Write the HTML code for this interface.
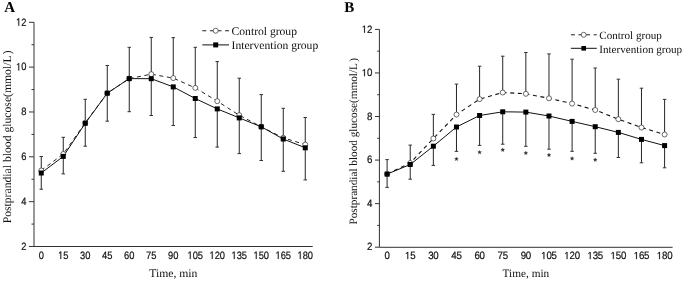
<!DOCTYPE html>
<html><head><meta charset="utf-8"><style>
html,body{margin:0;padding:0;background:#fff;}
body{width:685px;height:281px;overflow:hidden;}
svg{display:block;will-change:transform;}
text{text-rendering:geometricPrecision;}
.eb{stroke:#262626;stroke-width:1;}
.cap{stroke:#333;stroke-width:1;}
.dl{fill:none;stroke:#222;stroke-width:1;stroke-dasharray:4 3.6;}
.dlb{stroke:#111;stroke-width:1.1;}
.sl{fill:none;stroke:#111;stroke-width:1;}
.cm{fill:#fff;stroke:#3a3a3a;stroke-width:0.75;}
.sm{fill:#000;}
.yax{stroke:#333;stroke-width:1;}
.xax{stroke:#333;stroke-width:1;}
.tk{stroke:#333;stroke-width:1;}
.tl{font-family:"Liberation Sans",sans-serif;font-size:10.6px;fill:#111;stroke:#111;stroke-width:0.2px;text-rendering:geometricPrecision;}
.one{fill:#111;stroke:#111;stroke-width:40px;}
.lg,.ax{font-family:"Liberation Serif",serif;fill:#111;}
.pl{font-family:"Liberation Serif",serif;font-weight:bold;font-size:15px;fill:#000;}
.ast{fill:#333;stroke:#333;stroke-width:0.2;stroke-linejoin:round;}
</style></head><body>
<svg width="685" height="281" viewBox="0 0 685 281">
<line x1="34" y1="22.3" x2="34" y2="246.5" class="yax"/>
<line x1="34" y1="246.5" x2="312.7" y2="246.5" class="xax"/>
<line x1="29" y1="246.5" x2="34" y2="246.5" class="tk"/>
<text transform="translate(21.21,249.85) scale(0.8800,1)" class="tl" font-size="10.6">2</text>
<line x1="31.5" y1="224.08" x2="34" y2="224.08" class="tk"/>
<line x1="29" y1="201.66" x2="34" y2="201.66" class="tk"/>
<text transform="translate(21.21,205.01) scale(0.8800,1)" class="tl" font-size="10.6">4</text>
<line x1="31.5" y1="179.24" x2="34" y2="179.24" class="tk"/>
<line x1="29" y1="156.82" x2="34" y2="156.82" class="tk"/>
<text transform="translate(21.21,160.17) scale(0.8800,1)" class="tl" font-size="10.6">6</text>
<line x1="31.5" y1="134.4" x2="34" y2="134.4" class="tk"/>
<line x1="29" y1="111.98" x2="34" y2="111.98" class="tk"/>
<text transform="translate(21.21,115.33) scale(0.8800,1)" class="tl" font-size="10.6">8</text>
<line x1="31.5" y1="89.56" x2="34" y2="89.56" class="tk"/>
<line x1="29" y1="67.14" x2="34" y2="67.14" class="tk"/>
<path d="M515 0V1237L197 1010V1180L530 1409H696V0Z" class="one" transform="translate(16.02,70.49) scale(0.004555,-0.005176)"/><text transform="translate(21.21,70.49) scale(0.8800,1)" class="tl" font-size="10.6">0</text>
<line x1="31.5" y1="44.72" x2="34" y2="44.72" class="tk"/>
<line x1="29" y1="22.3" x2="34" y2="22.3" class="tk"/>
<path d="M515 0V1237L197 1010V1180L530 1409H696V0Z" class="one" transform="translate(16.02,25.65) scale(0.004555,-0.005176)"/><text transform="translate(21.21,25.65) scale(0.8800,1)" class="tl" font-size="10.6">2</text>
<text transform="translate(38.66,258.9) scale(0.8800,1)" class="tl" font-size="10.6">0</text>
<path d="M515 0V1237L197 1010V1180L530 1409H696V0Z" class="one" transform="translate(58.06,258.9) scale(0.004555,-0.005176)"/><text transform="translate(63.25,258.9) scale(0.8800,1)" class="tl" font-size="10.6">5</text>
<text transform="translate(80.06,258.9) scale(0.8800,1)" class="tl" font-size="10.6">3</text><text transform="translate(85.25,258.9) scale(0.8800,1)" class="tl" font-size="10.6">0</text>
<text transform="translate(102.06,258.9) scale(0.8800,1)" class="tl" font-size="10.6">4</text><text transform="translate(107.25,258.9) scale(0.8800,1)" class="tl" font-size="10.6">5</text>
<text transform="translate(124.06,258.9) scale(0.8800,1)" class="tl" font-size="10.6">6</text><text transform="translate(129.25,258.9) scale(0.8800,1)" class="tl" font-size="10.6">0</text>
<text transform="translate(146.06,258.9) scale(0.8800,1)" class="tl" font-size="10.6">7</text><text transform="translate(151.25,258.9) scale(0.8800,1)" class="tl" font-size="10.6">5</text>
<text transform="translate(168.06,258.9) scale(0.8800,1)" class="tl" font-size="10.6">9</text><text transform="translate(173.25,258.9) scale(0.8800,1)" class="tl" font-size="10.6">0</text>
<path d="M515 0V1237L197 1010V1180L530 1409H696V0Z" class="one" transform="translate(187.47,258.9) scale(0.004555,-0.005176)"/><text transform="translate(192.66,258.9) scale(0.8800,1)" class="tl" font-size="10.6">0</text><text transform="translate(197.84,258.9) scale(0.8800,1)" class="tl" font-size="10.6">5</text>
<path d="M515 0V1237L197 1010V1180L530 1409H696V0Z" class="one" transform="translate(209.47,258.9) scale(0.004555,-0.005176)"/><text transform="translate(214.66,258.9) scale(0.8800,1)" class="tl" font-size="10.6">2</text><text transform="translate(219.84,258.9) scale(0.8800,1)" class="tl" font-size="10.6">0</text>
<path d="M515 0V1237L197 1010V1180L530 1409H696V0Z" class="one" transform="translate(231.47,258.9) scale(0.004555,-0.005176)"/><text transform="translate(236.66,258.9) scale(0.8800,1)" class="tl" font-size="10.6">3</text><text transform="translate(241.84,258.9) scale(0.8800,1)" class="tl" font-size="10.6">5</text>
<path d="M515 0V1237L197 1010V1180L530 1409H696V0Z" class="one" transform="translate(253.47,258.9) scale(0.004555,-0.005176)"/><text transform="translate(258.66,258.9) scale(0.8800,1)" class="tl" font-size="10.6">5</text><text transform="translate(263.84,258.9) scale(0.8800,1)" class="tl" font-size="10.6">0</text>
<path d="M515 0V1237L197 1010V1180L530 1409H696V0Z" class="one" transform="translate(275.47,258.9) scale(0.004555,-0.005176)"/><text transform="translate(280.66,258.9) scale(0.8800,1)" class="tl" font-size="10.6">6</text><text transform="translate(285.84,258.9) scale(0.8800,1)" class="tl" font-size="10.6">5</text>
<path d="M515 0V1237L197 1010V1180L530 1409H696V0Z" class="one" transform="translate(297.47,258.9) scale(0.004555,-0.005176)"/><text transform="translate(302.66,258.9) scale(0.8800,1)" class="tl" font-size="10.6">8</text><text transform="translate(307.84,258.9) scale(0.8800,1)" class="tl" font-size="10.6">0</text>
<line x1="379.4" y1="29.4" x2="379.4" y2="247.3" class="yax"/>
<line x1="379.4" y1="247.3" x2="672.6" y2="247.3" class="xax"/>
<line x1="375" y1="247.2" x2="379.4" y2="247.2" class="tk"/>
<text transform="translate(367.01,250.45) scale(0.9150,1)" class="tl" font-size="10.2">2</text>
<line x1="377.2" y1="225.42" x2="379.4" y2="225.42" class="tk"/>
<line x1="375" y1="203.64" x2="379.4" y2="203.64" class="tk"/>
<text transform="translate(367.01,206.89) scale(0.9150,1)" class="tl" font-size="10.2">4</text>
<line x1="377.2" y1="181.86" x2="379.4" y2="181.86" class="tk"/>
<line x1="375" y1="160.08" x2="379.4" y2="160.08" class="tk"/>
<text transform="translate(367.01,163.33) scale(0.9150,1)" class="tl" font-size="10.2">6</text>
<line x1="377.2" y1="138.3" x2="379.4" y2="138.3" class="tk"/>
<line x1="375" y1="116.52" x2="379.4" y2="116.52" class="tk"/>
<text transform="translate(367.01,119.77) scale(0.9150,1)" class="tl" font-size="10.2">8</text>
<line x1="377.2" y1="94.74" x2="379.4" y2="94.74" class="tk"/>
<line x1="375" y1="72.96" x2="379.4" y2="72.96" class="tk"/>
<path d="M515 0V1237L197 1010V1180L530 1409H696V0Z" class="one" transform="translate(361.82,76.21) scale(0.004557,-0.004980)"/><text transform="translate(367.01,76.21) scale(0.9150,1)" class="tl" font-size="10.2">0</text>
<line x1="377.2" y1="51.18" x2="379.4" y2="51.18" class="tk"/>
<line x1="375" y1="29.4" x2="379.4" y2="29.4" class="tk"/>
<path d="M515 0V1237L197 1010V1180L530 1409H696V0Z" class="one" transform="translate(361.82,32.65) scale(0.004557,-0.004980)"/><text transform="translate(367.01,32.65) scale(0.9150,1)" class="tl" font-size="10.2">2</text>
<text transform="translate(384.5,259.1) scale(0.9150,1)" class="tl" font-size="10.2">0</text>
<path d="M515 0V1237L197 1010V1180L530 1409H696V0Z" class="one" transform="translate(405.03,259.1) scale(0.004557,-0.004980)"/><text transform="translate(410.23,259.1) scale(0.9150,1)" class="tl" font-size="10.2">5</text>
<text transform="translate(428.16,259.1) scale(0.9150,1)" class="tl" font-size="10.2">3</text><text transform="translate(433.35,259.1) scale(0.9150,1)" class="tl" font-size="10.2">0</text>
<text transform="translate(451.28,259.1) scale(0.9150,1)" class="tl" font-size="10.2">4</text><text transform="translate(456.48,259.1) scale(0.9150,1)" class="tl" font-size="10.2">5</text>
<text transform="translate(474.41,259.1) scale(0.9150,1)" class="tl" font-size="10.2">6</text><text transform="translate(479.6,259.1) scale(0.9150,1)" class="tl" font-size="10.2">0</text>
<text transform="translate(497.53,259.1) scale(0.9150,1)" class="tl" font-size="10.2">7</text><text transform="translate(502.73,259.1) scale(0.9150,1)" class="tl" font-size="10.2">5</text>
<text transform="translate(520.66,259.1) scale(0.9150,1)" class="tl" font-size="10.2">9</text><text transform="translate(525.85,259.1) scale(0.9150,1)" class="tl" font-size="10.2">0</text>
<path d="M515 0V1237L197 1010V1180L530 1409H696V0Z" class="one" transform="translate(541.19,259.1) scale(0.004557,-0.004980)"/><text transform="translate(546.38,259.1) scale(0.9150,1)" class="tl" font-size="10.2">0</text><text transform="translate(551.57,259.1) scale(0.9150,1)" class="tl" font-size="10.2">5</text>
<path d="M515 0V1237L197 1010V1180L530 1409H696V0Z" class="one" transform="translate(564.31,259.1) scale(0.004557,-0.004980)"/><text transform="translate(569.5,259.1) scale(0.9150,1)" class="tl" font-size="10.2">2</text><text transform="translate(574.7,259.1) scale(0.9150,1)" class="tl" font-size="10.2">0</text>
<path d="M515 0V1237L197 1010V1180L530 1409H696V0Z" class="one" transform="translate(587.44,259.1) scale(0.004557,-0.004980)"/><text transform="translate(592.63,259.1) scale(0.9150,1)" class="tl" font-size="10.2">3</text><text transform="translate(597.82,259.1) scale(0.9150,1)" class="tl" font-size="10.2">5</text>
<path d="M515 0V1237L197 1010V1180L530 1409H696V0Z" class="one" transform="translate(610.56,259.1) scale(0.004557,-0.004980)"/><text transform="translate(615.75,259.1) scale(0.9150,1)" class="tl" font-size="10.2">5</text><text transform="translate(620.95,259.1) scale(0.9150,1)" class="tl" font-size="10.2">0</text>
<path d="M515 0V1237L197 1010V1180L530 1409H696V0Z" class="one" transform="translate(633.69,259.1) scale(0.004557,-0.004980)"/><text transform="translate(638.88,259.1) scale(0.9150,1)" class="tl" font-size="10.2">6</text><text transform="translate(644.07,259.1) scale(0.9150,1)" class="tl" font-size="10.2">5</text>
<path d="M515 0V1237L197 1010V1180L530 1409H696V0Z" class="one" transform="translate(656.81,259.1) scale(0.004557,-0.004980)"/><text transform="translate(662,259.1) scale(0.9150,1)" class="tl" font-size="10.2">8</text><text transform="translate(667.2,259.1) scale(0.9150,1)" class="tl" font-size="10.2">0</text>
<line x1="41.25" y1="156.5" x2="41.25" y2="170.5" class="eb"/>
<line x1="41.25" y1="173" x2="41.25" y2="189.25" class="eb"/>
<line x1="39.5" y1="156.5" x2="43" y2="156.5" class="cap"/>
<line x1="39.5" y1="189.25" x2="43" y2="189.25" class="cap"/>
<line x1="63.25" y1="137.3" x2="63.25" y2="154" class="eb"/>
<line x1="63.25" y1="156.4" x2="63.25" y2="173.9" class="eb"/>
<line x1="61.5" y1="137.3" x2="65" y2="137.3" class="cap"/>
<line x1="61.5" y1="173.9" x2="65" y2="173.9" class="cap"/>
<line x1="85.25" y1="99.3" x2="85.25" y2="122.8" class="eb"/>
<line x1="85.25" y1="123.3" x2="85.25" y2="146.2" class="eb"/>
<line x1="83.5" y1="99.3" x2="87" y2="99.3" class="cap"/>
<line x1="83.5" y1="146.2" x2="87" y2="146.2" class="cap"/>
<line x1="107.25" y1="65.5" x2="107.25" y2="93.2" class="eb"/>
<line x1="107.25" y1="93.2" x2="107.25" y2="121.2" class="eb"/>
<line x1="105.5" y1="65.5" x2="109" y2="65.5" class="cap"/>
<line x1="105.5" y1="121.2" x2="109" y2="121.2" class="cap"/>
<line x1="129.25" y1="47.3" x2="129.25" y2="78.6" class="eb"/>
<line x1="129.25" y1="78.6" x2="129.25" y2="111.7" class="eb"/>
<line x1="127.5" y1="47.3" x2="131" y2="47.3" class="cap"/>
<line x1="127.5" y1="111.7" x2="131" y2="111.7" class="cap"/>
<line x1="151.25" y1="37.4" x2="151.25" y2="74.2" class="eb"/>
<line x1="151.25" y1="78.7" x2="151.25" y2="115.5" class="eb"/>
<line x1="149.5" y1="37.4" x2="153" y2="37.4" class="cap"/>
<line x1="149.5" y1="115.5" x2="153" y2="115.5" class="cap"/>
<line x1="173.25" y1="37.7" x2="173.25" y2="78.1" class="eb"/>
<line x1="173.25" y1="86.9" x2="173.25" y2="125.5" class="eb"/>
<line x1="171.5" y1="37.7" x2="175" y2="37.7" class="cap"/>
<line x1="171.5" y1="125.5" x2="175" y2="125.5" class="cap"/>
<line x1="195.25" y1="47.3" x2="195.25" y2="87.9" class="eb"/>
<line x1="195.25" y1="98.5" x2="195.25" y2="137.5" class="eb"/>
<line x1="193.5" y1="47.3" x2="197" y2="47.3" class="cap"/>
<line x1="193.5" y1="137.5" x2="197" y2="137.5" class="cap"/>
<line x1="217.25" y1="61.6" x2="217.25" y2="101.2" class="eb"/>
<line x1="217.25" y1="108.9" x2="217.25" y2="147.1" class="eb"/>
<line x1="215.5" y1="61.6" x2="219" y2="61.6" class="cap"/>
<line x1="215.5" y1="147.1" x2="219" y2="147.1" class="cap"/>
<line x1="239.25" y1="78.2" x2="239.25" y2="115.2" class="eb"/>
<line x1="239.25" y1="117.9" x2="239.25" y2="153.6" class="eb"/>
<line x1="237.5" y1="78.2" x2="241" y2="78.2" class="cap"/>
<line x1="237.5" y1="153.6" x2="241" y2="153.6" class="cap"/>
<line x1="261.25" y1="94.6" x2="261.25" y2="126.8" class="eb"/>
<line x1="261.25" y1="126.8" x2="261.25" y2="160.5" class="eb"/>
<line x1="259.5" y1="94.6" x2="263" y2="94.6" class="cap"/>
<line x1="259.5" y1="160.5" x2="263" y2="160.5" class="cap"/>
<line x1="283.25" y1="108.3" x2="283.25" y2="137.8" class="eb"/>
<line x1="283.25" y1="139" x2="283.25" y2="171.3" class="eb"/>
<line x1="281.5" y1="108.3" x2="285" y2="108.3" class="cap"/>
<line x1="281.5" y1="171.3" x2="285" y2="171.3" class="cap"/>
<line x1="305.25" y1="117.5" x2="305.25" y2="144.6" class="eb"/>
<line x1="305.25" y1="147.8" x2="305.25" y2="179.9" class="eb"/>
<line x1="303.5" y1="117.5" x2="307" y2="117.5" class="cap"/>
<line x1="303.5" y1="179.9" x2="307" y2="179.9" class="cap"/>
<path d="M41.25,170.5 L63.25,154 L85.25,122.8 L107.25,93.2 L129.25,78.6 L151.25,74.2 L173.25,78.1 L195.25,87.9 L217.25,101.2 L239.25,115.2 L261.25,126.8 L283.25,137.8 L305.25,144.6" class="dl"/>
<path d="M41.25,173 L63.25,156.4 L85.25,123.3 L107.25,93.2 L129.25,78.6 L151.25,78.7 L173.25,86.9 L195.25,98.5 L217.25,108.9 L239.25,117.9 L261.25,126.8 L283.25,139 L305.25,147.8" class="sl"/>
<circle cx="41.25" cy="170.5" r="2.5" class="cm"/>
<circle cx="63.25" cy="154" r="2.5" class="cm"/>
<circle cx="85.25" cy="122.8" r="2.5" class="cm"/>
<circle cx="107.25" cy="93.2" r="2.5" class="cm"/>
<circle cx="129.25" cy="78.6" r="2.5" class="cm"/>
<circle cx="151.25" cy="74.2" r="2.5" class="cm"/>
<circle cx="173.25" cy="78.1" r="2.5" class="cm"/>
<circle cx="195.25" cy="87.9" r="2.5" class="cm"/>
<circle cx="217.25" cy="101.2" r="2.5" class="cm"/>
<circle cx="239.25" cy="115.2" r="2.5" class="cm"/>
<circle cx="261.25" cy="126.8" r="2.5" class="cm"/>
<circle cx="283.25" cy="137.8" r="2.5" class="cm"/>
<circle cx="305.25" cy="144.6" r="2.5" class="cm"/>
<rect x="38.75" y="170.5" width="5" height="5" class="sm"/>
<rect x="60.75" y="153.9" width="5" height="5" class="sm"/>
<rect x="82.75" y="120.8" width="5" height="5" class="sm"/>
<rect x="104.75" y="90.7" width="5" height="5" class="sm"/>
<rect x="126.75" y="76.1" width="5" height="5" class="sm"/>
<rect x="148.75" y="76.2" width="5" height="5" class="sm"/>
<rect x="170.75" y="84.4" width="5" height="5" class="sm"/>
<rect x="192.75" y="96" width="5" height="5" class="sm"/>
<rect x="214.75" y="106.4" width="5" height="5" class="sm"/>
<rect x="236.75" y="115.4" width="5" height="5" class="sm"/>
<rect x="258.75" y="124.3" width="5" height="5" class="sm"/>
<rect x="280.75" y="136.5" width="5" height="5" class="sm"/>
<rect x="302.75" y="145.3" width="5" height="5" class="sm"/>
<line x1="387.1" y1="159.6" x2="387.1" y2="174" class="eb"/>
<line x1="387.1" y1="174.1" x2="387.1" y2="187.4" class="eb"/>
<line x1="385.35" y1="159.6" x2="388.85" y2="159.6" class="cap"/>
<line x1="385.35" y1="187.4" x2="388.85" y2="187.4" class="cap"/>
<line x1="410.23" y1="145.1" x2="410.23" y2="163" class="eb"/>
<line x1="410.23" y1="164.5" x2="410.23" y2="179.2" class="eb"/>
<line x1="408.48" y1="145.1" x2="411.98" y2="145.1" class="cap"/>
<line x1="408.48" y1="179.2" x2="411.98" y2="179.2" class="cap"/>
<line x1="433.35" y1="114.4" x2="433.35" y2="138.5" class="eb"/>
<line x1="433.35" y1="146.2" x2="433.35" y2="165.4" class="eb"/>
<line x1="431.6" y1="114.4" x2="435.1" y2="114.4" class="cap"/>
<line x1="431.6" y1="165.4" x2="435.1" y2="165.4" class="cap"/>
<line x1="456.48" y1="84.1" x2="456.48" y2="114.6" class="eb"/>
<line x1="456.48" y1="127" x2="456.48" y2="151.4" class="eb"/>
<line x1="454.73" y1="84.1" x2="458.23" y2="84.1" class="cap"/>
<line x1="454.73" y1="151.4" x2="458.23" y2="151.4" class="cap"/>
<line x1="479.6" y1="66.2" x2="479.6" y2="99.1" class="eb"/>
<line x1="479.6" y1="115.5" x2="479.6" y2="145.4" class="eb"/>
<line x1="477.85" y1="66.2" x2="481.35" y2="66.2" class="cap"/>
<line x1="477.85" y1="145.4" x2="481.35" y2="145.4" class="cap"/>
<line x1="502.73" y1="56.2" x2="502.73" y2="92.5" class="eb"/>
<line x1="502.73" y1="111.8" x2="502.73" y2="144.2" class="eb"/>
<line x1="500.98" y1="56.2" x2="504.48" y2="56.2" class="cap"/>
<line x1="500.98" y1="144.2" x2="504.48" y2="144.2" class="cap"/>
<line x1="525.85" y1="52.5" x2="525.85" y2="93.8" class="eb"/>
<line x1="525.85" y1="112.1" x2="525.85" y2="146.3" class="eb"/>
<line x1="524.1" y1="52.5" x2="527.6" y2="52.5" class="cap"/>
<line x1="524.1" y1="146.3" x2="527.6" y2="146.3" class="cap"/>
<line x1="548.98" y1="53.9" x2="548.98" y2="98.3" class="eb"/>
<line x1="548.98" y1="116" x2="548.98" y2="149.2" class="eb"/>
<line x1="547.23" y1="53.9" x2="550.73" y2="53.9" class="cap"/>
<line x1="547.23" y1="149.2" x2="550.73" y2="149.2" class="cap"/>
<line x1="572.1" y1="59.2" x2="572.1" y2="103.6" class="eb"/>
<line x1="572.1" y1="121.4" x2="572.1" y2="151.3" class="eb"/>
<line x1="570.35" y1="59.2" x2="573.85" y2="59.2" class="cap"/>
<line x1="570.35" y1="151.3" x2="573.85" y2="151.3" class="cap"/>
<line x1="595.23" y1="68" x2="595.23" y2="110" class="eb"/>
<line x1="595.23" y1="126.7" x2="595.23" y2="153.3" class="eb"/>
<line x1="593.48" y1="68" x2="596.98" y2="68" class="cap"/>
<line x1="593.48" y1="153.3" x2="596.98" y2="153.3" class="cap"/>
<line x1="618.35" y1="79.2" x2="618.35" y2="119.2" class="eb"/>
<line x1="618.35" y1="132.4" x2="618.35" y2="157.5" class="eb"/>
<line x1="616.6" y1="79.2" x2="620.1" y2="79.2" class="cap"/>
<line x1="616.6" y1="157.5" x2="620.1" y2="157.5" class="cap"/>
<line x1="641.48" y1="88.2" x2="641.48" y2="127.5" class="eb"/>
<line x1="641.48" y1="139.4" x2="641.48" y2="162.8" class="eb"/>
<line x1="639.73" y1="88.2" x2="643.23" y2="88.2" class="cap"/>
<line x1="639.73" y1="162.8" x2="643.23" y2="162.8" class="cap"/>
<line x1="664.6" y1="99.4" x2="664.6" y2="134.5" class="eb"/>
<line x1="664.6" y1="145.6" x2="664.6" y2="167.8" class="eb"/>
<line x1="662.85" y1="99.4" x2="666.35" y2="99.4" class="cap"/>
<line x1="662.85" y1="167.8" x2="666.35" y2="167.8" class="cap"/>
<path d="M387.1,174 L410.23,163 L433.35,138.5 L456.48,114.6 L479.6,99.1 L502.73,92.5 L525.85,93.8 L548.98,98.3 L572.1,103.6 L595.23,110 L618.35,119.2 L641.48,127.5 L664.6,134.5" class="dl dlb"/>
<path d="M387.1,174.1 L410.23,164.5 L433.35,146.2 L456.48,127 L479.6,115.5 L502.73,111.8 L525.85,112.1 L548.98,116 L572.1,121.4 L595.23,126.7 L618.35,132.4 L641.48,139.4 L664.6,145.6" class="sl"/>
<circle cx="387.1" cy="174" r="2.5" class="cm"/>
<circle cx="410.23" cy="163" r="2.5" class="cm"/>
<circle cx="433.35" cy="138.5" r="2.5" class="cm"/>
<circle cx="456.48" cy="114.6" r="2.5" class="cm"/>
<circle cx="479.6" cy="99.1" r="2.5" class="cm"/>
<circle cx="502.73" cy="92.5" r="2.5" class="cm"/>
<circle cx="525.85" cy="93.8" r="2.5" class="cm"/>
<circle cx="548.98" cy="98.3" r="2.5" class="cm"/>
<circle cx="572.1" cy="103.6" r="2.5" class="cm"/>
<circle cx="595.23" cy="110" r="2.5" class="cm"/>
<circle cx="618.35" cy="119.2" r="2.5" class="cm"/>
<circle cx="641.48" cy="127.5" r="2.5" class="cm"/>
<circle cx="664.6" cy="134.5" r="2.5" class="cm"/>
<rect x="384.6" y="171.6" width="5" height="5" class="sm"/>
<rect x="407.73" y="162" width="5" height="5" class="sm"/>
<rect x="430.85" y="143.7" width="5" height="5" class="sm"/>
<rect x="453.98" y="124.5" width="5" height="5" class="sm"/>
<rect x="477.1" y="113" width="5" height="5" class="sm"/>
<rect x="500.23" y="109.3" width="5" height="5" class="sm"/>
<rect x="523.35" y="109.6" width="5" height="5" class="sm"/>
<rect x="546.48" y="113.5" width="5" height="5" class="sm"/>
<rect x="569.6" y="118.9" width="5" height="5" class="sm"/>
<rect x="592.73" y="124.2" width="5" height="5" class="sm"/>
<rect x="615.85" y="129.9" width="5" height="5" class="sm"/>
<rect x="638.98" y="136.9" width="5" height="5" class="sm"/>
<rect x="662.1" y="143.1" width="5" height="5" class="sm"/>
<polygon points="456.48,156.9 457.06,158.19 458.47,158.35 457.43,159.31 457.71,160.7 456.48,160 455.24,160.7 455.52,159.31 454.48,158.35 455.89,158.19" class="ast"/>
<polygon points="479.6,150.2 480.19,151.49 481.6,151.65 480.55,152.61 480.83,154 479.6,153.3 478.37,154 478.65,152.61 477.6,151.65 479.01,151.49" class="ast"/>
<polygon points="502.73,147.8 503.31,149.09 504.72,149.25 503.68,150.21 503.96,151.6 502.73,150.9 501.49,151.6 501.77,150.21 500.73,149.25 502.14,149.09" class="ast"/>
<polygon points="525.85,150.9 526.44,152.19 527.85,152.35 526.8,153.31 527.08,154.7 525.85,154 524.62,154.7 524.9,153.31 523.85,152.35 525.26,152.19" class="ast"/>
<polygon points="548.98,153 549.56,154.29 550.97,154.45 549.93,155.41 550.21,156.8 548.98,156.1 547.74,156.8 548.02,155.41 546.98,154.45 548.39,154.29" class="ast"/>
<polygon points="572.1,156.4 572.69,157.69 574.1,157.85 573.05,158.81 573.33,160.2 572.1,159.5 570.87,160.2 571.15,158.81 570.1,157.85 571.51,157.69" class="ast"/>
<polygon points="595.23,157.7 595.81,158.99 597.22,159.15 596.18,160.11 596.46,161.5 595.23,160.8 593.99,161.5 594.27,160.11 593.23,159.15 594.64,158.99" class="ast"/>
<line x1="202.3" y1="30.75" x2="229" y2="30.75" class="dl" stroke-dasharray="3.7 4.3"/>
<circle cx="215.7" cy="30.75" r="2.5" class="cm"/>
<line x1="202.3" y1="44.9" x2="229" y2="44.9" class="sl"/>
<rect x="213.2" y="42.4" width="5" height="5" class="sm"/>
<text x="231.6" y="34.8" class="lg" font-size="11.6">Control group</text>
<text x="231.6" y="49.2" class="lg" font-size="11.6">Intervention group</text>
<line x1="570.9" y1="34.8" x2="596.8" y2="34.8" class="dl" stroke-dasharray="3.8 3.5"/>
<circle cx="583.7" cy="34.8" r="2.5" class="cm"/>
<line x1="570.9" y1="48.3" x2="596.8" y2="48.3" class="sl"/>
<rect x="581.4" y="46" width="4.6" height="4.6" class="sm"/>
<text x="599.3" y="38.8" class="lg" font-size="11.1">Control group</text>
<text x="599.3" y="52.6" class="lg" font-size="11.1">Intervention group</text>
<text x="4.3" y="12" class="pl">A</text>
<text x="344.2" y="12.3" class="pl">B</text>
<text x="173.3" y="276.8" class="ax" text-anchor="middle" font-size="11.7">Time, min</text>
<text x="525.9" y="276.7" class="ax" text-anchor="middle" font-size="11.3">Time, min</text>
<text transform="translate(11.4,136.8) rotate(-90)" class="ax" text-anchor="middle" font-size="11.68">Postprandial blood glucose(mmol/L<tspan dx="1.3">)</tspan></text>
<text transform="translate(357.3,141.3) rotate(-90)" class="ax" text-anchor="middle" font-size="11.22">Postprandial blood glucose(mmol/L<tspan dx="1.3">)</tspan></text>
</svg>
</body></html>
